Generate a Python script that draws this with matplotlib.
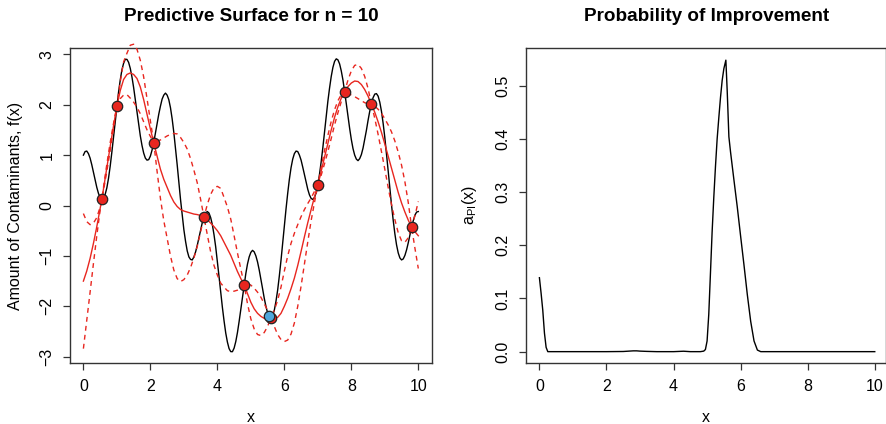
import numpy as np
import matplotlib
matplotlib.use("Agg")
import matplotlib.pyplot as plt

plt.rcParams['font.family'] = ['Liberation Sans', 'DejaVu Sans']

# ---- true function (black), read on a 0.05 grid ----
x_true = np.round(np.arange(0, 201) * 0.05, 2)
f_true = [1.00, 1.07, 1.08, 1.03, 0.94, 0.81, 0.66, 0.51, 0.36, 0.24,
          0.16, 0.12, 0.14, 0.22, 0.35, 0.54, 0.78, 1.06, 1.36, 1.66,
          1.97, 2.25, 2.49, 2.69, 2.82, 2.90, 2.90, 2.84, 2.72, 2.55,
          2.34, 2.10, 1.85, 1.61, 1.38, 1.19, 1.04, 0.94, 0.90, 0.91,
          0.98, 1.10, 1.25, 1.43, 1.62, 1.81, 1.97, 2.11, 2.19, 2.23,
          2.19, 2.10, 1.94, 1.72, 1.45, 1.14, 0.81, 0.46, 0.12, -0.19,
          -0.48, -0.71, -0.90, -1.02, -1.07, -1.08, -1.02, -0.92, -0.79, -0.64,
          -0.48, -0.34, -0.22, -0.15, -0.12, -0.15, -0.24, -0.38, -0.58, -0.82,
          -1.11, -1.41, -1.72, -2.02, -2.29, -2.53, -2.71, -2.84, -2.90, -2.90,
          -2.83, -2.70, -2.52, -2.30, -2.06, -1.81, -1.57, -1.35, -1.16, -1.02,
          -0.93, -0.89, -0.92, -1.00, -1.12, -1.28, -1.46, -1.65, -1.84, -2.00,
          -2.13, -2.21, -2.23, -2.18, -2.08, -1.90, -1.68, -1.40, -1.09, -0.75,
          -0.40, -0.07, 0.24, 0.52, 0.75, 0.92, 1.03, 1.08, 1.07, 1.00,
          0.90, 0.76, 0.61, 0.46, 0.32, 0.21, 0.14, 0.12, 0.16, 0.25,
          0.41, 0.62, 0.87, 1.15, 1.46, 1.77, 2.07, 2.33, 2.56, 2.74,
          2.86, 2.91, 2.89, 2.81, 2.67, 2.49, 2.26, 2.02, 1.77, 1.53,
          1.31, 1.13, 1.00, 0.92, 0.89, 0.93, 1.01, 1.14, 1.31, 1.49,
          1.69, 1.87, 2.02, 2.14, 2.21, 2.22, 2.17, 2.05, 1.87, 1.63,
          1.35, 1.03, 0.69, 0.35, 0.01, -0.29, -0.56, -0.78, -0.94, -1.04,
          -1.08, -1.06, -0.99, -0.88, -0.74, -0.58, -0.43, -0.30, -0.19, -0.13,
          -0.12]

# ---- GP predictive mean and band (red) ----
x_gp = np.concatenate([np.round(np.arange(0, 6) * 0.1, 2), [0.55],
                       np.round(np.arange(6, 101) * 0.1, 2)])
gp_mean = [-1.50, -1.30, -1.05, -0.75, -0.42, -0.06, 0.12,
           0.33, 0.75, 1.17, 1.58,
           1.97, 2.28, 2.50, 2.60, 2.63, 2.60, 2.52, 2.35, 2.10, 1.81,
           1.52, 1.25, 0.98, 0.72, 0.52, 0.36, 0.20, 0.07, -0.02, -0.08,
           -0.11, -0.13, -0.15, -0.17, -0.18, -0.20, -0.23, -0.28, -0.35, -0.42,
           -0.50, -0.60, -0.73, -0.86, -0.99, -1.15, -1.31, -1.45, -1.57, -1.75,
           -1.92, -2.05, -2.14, -2.20, -2.24, -2.24, -2.23, -2.24, -2.22, -2.14,
           -2.00, -1.84, -1.65, -1.44, -1.19, -0.91, -0.62, -0.34, -0.08, 0.17,
           0.40, 0.68, 0.96, 1.23, 1.50, 1.75, 1.96, 2.13, 2.26, 2.36,
           2.43, 2.47, 2.46, 2.40, 2.30, 2.17, 2.01, 1.85, 1.66, 1.45,
           1.22, 0.98, 0.74, 0.50, 0.26, 0.05, -0.13, -0.29, -0.43, -0.52,
           -0.60]
gp_upper = [-0.16, -0.32, -0.38, -0.35, -0.24, -0.03, 0.12,
            0.36, 0.82, 1.25, 1.63,
            1.97, 2.45, 2.85, 3.02, 3.18, 3.20, 3.10, 2.88, 2.55, 2.12,
            1.68, 1.25, 1.28, 1.30, 1.34, 1.38, 1.41, 1.43, 1.42, 1.35,
            1.25, 1.12, 0.93, 0.70, 0.45, 0.12, -0.23, 0.02, 0.22, 0.35,
            0.38, 0.34, 0.16, -0.03, -0.27, -0.60, -0.94, -1.26, -1.57, -1.55,
            -1.58, -1.64, -1.72, -1.82, -1.95, -2.08, -2.23, -2.08, -1.88, -1.62,
            -1.30, -1.00, -0.75, -0.55, -0.38, -0.22, -0.08, 0.04, 0.15, 0.28,
            0.40, 0.76, 1.09, 1.39, 1.67, 1.90, 2.08, 2.20, 2.26, 2.49,
            2.67, 2.78, 2.80, 2.72, 2.56, 2.32, 2.01, 1.97, 1.91, 1.83,
            1.72, 1.60, 1.46, 1.28, 1.06, 0.80, 0.47, 0.06, -0.43, -0.20,
            0.08]
gp_lower = [-2.84, -2.28, -1.72, -1.15, -0.60, -0.09, 0.12,
            0.30, 0.68, 1.09, 1.53,
            1.97, 2.12, 2.19, 2.20, 2.13, 2.05, 1.95, 1.82, 1.66, 1.50,
            1.37, 1.25, 0.68, 0.14, -0.30, -0.65, -1.00, -1.28, -1.45, -1.51,
            -1.47, -1.38, -1.23, -1.04, -0.81, -0.52, -0.23, -0.58, -0.92, -1.19,
            -1.38, -1.54, -1.62, -1.69, -1.71, -1.70, -1.68, -1.64, -1.57, -1.95,
            -2.25, -2.45, -2.56, -2.58, -2.52, -2.40, -2.23, -2.40, -2.56, -2.66,
            -2.70, -2.67, -2.55, -2.33, -2.00, -1.60, -1.16, -0.72, -0.30, 0.06,
            0.40, 0.60, 0.83, 1.07, 1.33, 1.60, 1.84, 2.06, 2.26, 2.23,
            2.19, 2.16, 2.12, 2.08, 2.04, 2.02, 2.01, 1.73, 1.41, 1.07,
            0.72, 0.36, 0.02, -0.28, -0.54, -0.70, -0.73, -0.64, -0.43, -0.85,
            -1.25]

# ---- observations ----
obs_x = [0.55, 1.0, 2.1, 3.6, 4.8, 5.6, 7.0, 7.8, 8.6, 9.8]
obs_y = [0.12, 1.97, 1.25, -0.22, -1.57, -2.23, 0.41, 2.26, 2.02, -0.43]
new_x = [5.55]
new_y = [-2.20]

# ---- probability of improvement ----
pi_x = [0, 0.05, 0.1, 0.15, 0.2, 0.25, 0.5, 1.0, 1.5, 2.0, 2.5, 2.8, 2.9, 3.0,
        3.2, 3.5, 4.0, 4.3, 4.5, 4.8, 4.9, 4.95, 5.0, 5.05, 5.1, 5.15, 5.2,
        5.25, 5.3, 5.35, 5.4, 5.45, 5.5, 5.56, 5.6, 5.65, 5.7, 5.8, 5.9, 6.0,
        6.1, 6.2, 6.3, 6.4, 6.5, 6.6, 7.0, 8.0, 9.0, 10.0]
pi_y = [0.139, 0.11, 0.078, 0.035, 0.008, 0.0, 0.0, 0.0, 0.0, 0.0, 0.0003,
        0.0015, 0.0015, 0.001, 0.0005, 0.0, 0.0, 0.0008, 0.0, 0.0, 0.001, 0.004,
        0.02, 0.07, 0.147, 0.225, 0.29, 0.348, 0.40, 0.44, 0.478, 0.51, 0.532,
        0.548, 0.49, 0.404, 0.375, 0.323, 0.272, 0.217, 0.163, 0.107, 0.057,
        0.02, 0.003, 0.0, 0.0, 0.0, 0.0, 0.0]

RED = '#E8261F'
W, H = 887, 424
fig = plt.figure(figsize=(W / 100, H / 100), dpi=100)

ax1 = fig.add_axes([70 / W, 1 - 363.3 / H, 361.7 / W, 315.6 / H])
ax2 = fig.add_axes([526 / W, 1 - 363.3 / H, 360.5 / W, 315.6 / H])

# left panel
ax1.plot(x_true, f_true, color='black', lw=1.0, zorder=2)
ax1.plot(x_gp, gp_mean, color=RED, lw=1.0, zorder=3)
ax1.plot(x_gp, gp_upper, color=RED, lw=1.0, ls=(0, (3.5, 3)), zorder=3, clip_on=False)
ax1.plot(x_gp, gp_lower, color=RED, lw=1.0, ls=(0, (3.5, 3)), zorder=3, clip_on=False)
ax1.plot(obs_x, obs_y, 'o', ms=7.5, mfc=RED, mec='#222222', mew=0.9, zorder=5)
ax1.plot(new_x, new_y, 'o', ms=7.5, mfc='#4FA6DB', mec='#222222', mew=0.9, zorder=6)
ax1.set_xlim(-0.4, 10.4)
ax1.set_ylim(-3.131, 3.131)
ax1.set_xticks([0, 2, 4, 6, 8, 10])
ax1.set_yticks([-3, -2, -1, 0, 1, 2, 3])
ax1.set_yticklabels(['\u22123', '\u22122', '\u22121', '0', '1', '2', '3'])
ax1.set_title('Predictive Surface for n = 10', fontsize=13.6, fontweight='bold', pad=19)
ax1.set_xlabel('x', fontsize=11.5, labelpad=12)
ax1.set_ylabel('Amount of Contaminants, f(x)', fontsize=11.5, labelpad=12)

# right panel
ax2.plot(pi_x, pi_y, color='black', lw=1.0)
ax2.set_xlim(-0.4, 10.35)
ax2.set_ylim(-0.0219, 0.5714)
ax2.set_xticks([0, 2, 4, 6, 8, 10])
ax2.set_yticks([0.0, 0.1, 0.2, 0.3, 0.4, 0.5])
ax2.set_yticklabels(['0.0', '0.1', '0.2', '0.3', '0.4', '0.5'])
ax2.set_title('Probability of Improvement', fontsize=13.6, fontweight='bold', pad=19)
ax2.set_xlabel('x', fontsize=11.5, labelpad=12)
ax2.set_ylabel(r'$\mathregular{a_{PI}(x)}$', fontsize=11.5, labelpad=12)

for ax in (ax1, ax2):
    for s in ax.spines.values():
        s.set_linewidth(1.0)
        s.set_color('#333333')
    ax.tick_params(direction='out', length=5, width=0.9, color='#333333',
                   labelsize=11.5, pad=6)
    for lab in ax.get_yticklabels():
        lab.set_rotation(90)
        lab.set_va('center')

fig.savefig('out.png', dpi=100)
